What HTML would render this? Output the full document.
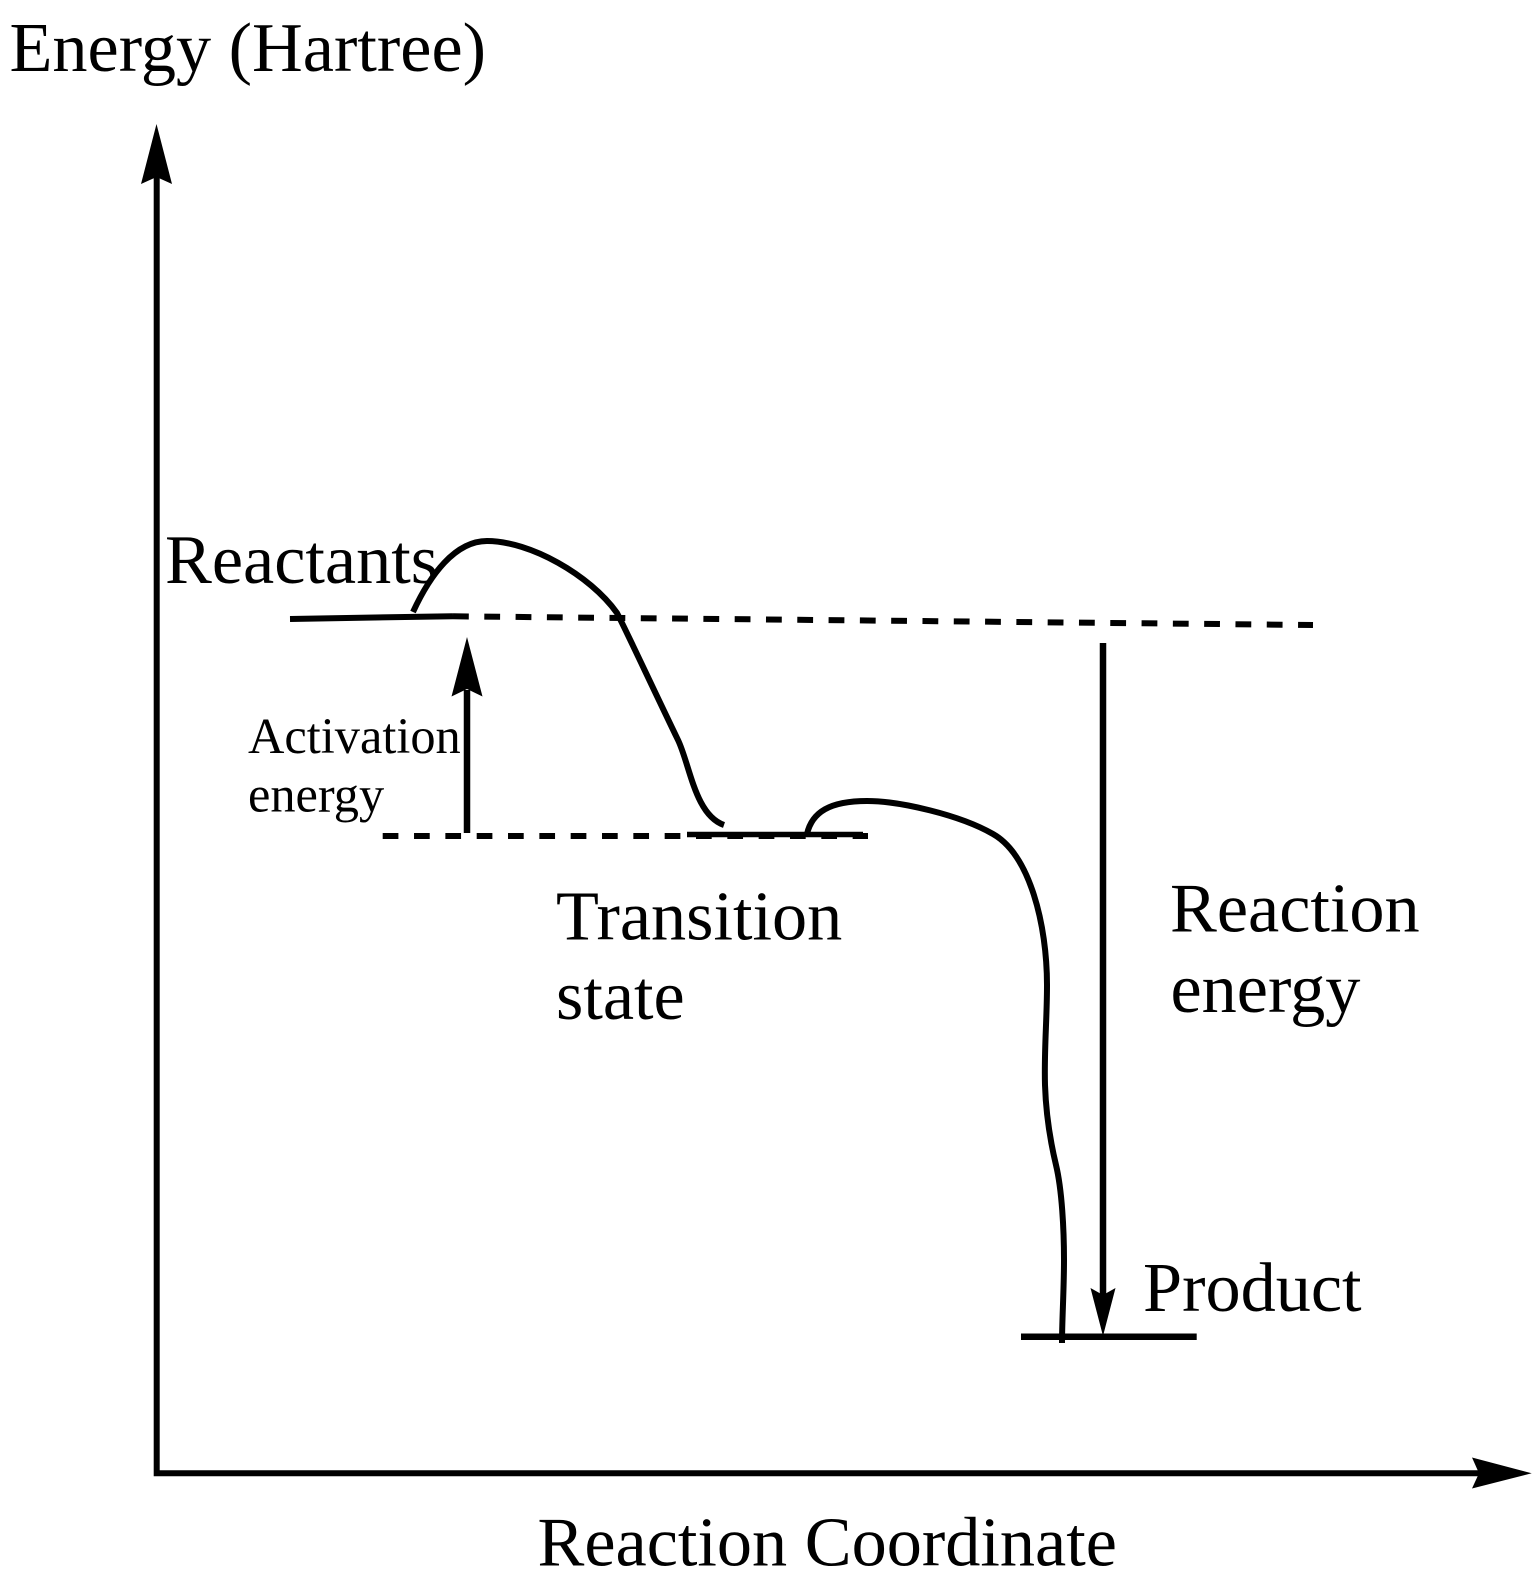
<!DOCTYPE html>
<html>
<head>
<meta charset="utf-8">
<style>
html,body{margin:0;padding:0;background:#fff;width:1540px;height:1592px;overflow:hidden}
svg{display:block}
text{font-family:"Liberation Serif",serif;fill:#000;font-size:70.25px}
</style>
</head>
<body>
<svg width="1540" height="1592" viewBox="0 0 1540 1592" xmlns="http://www.w3.org/2000/svg">
<rect width="1540" height="1592" fill="#fff"/>
<g fill="none" stroke="#000">
  <path d="M156.7 175V1473.3H1480" stroke-width="6"/>
  <path d="M290 619L453 616.2" stroke-width="6"/>
  <path d="M453 616.3L1313 625" stroke-width="6" stroke-dasharray="15.8 15.5"/>
  <path d="M382.7 836H868" stroke-width="6" stroke-dasharray="15.7 15.63"/>
  <path d="M687 834.5H863" stroke-width="5.5"/>
  <path d="M467 690V833" stroke-width="6.5"/>
  <path d="M1103 643V1296" stroke-width="6.5"/>
  <path d="M1021 1336.7H1196.7" stroke-width="6.5"/>
  <path d="M413 612C430 575 455 541 487 541C530 541 590 575 617 613C625 628 650 682 678 740C690 765 695 815 724 825" stroke-width="6"/>
  <path d="M807 834C812 812 830 801 867 801C900 801 960 815 993 834C1030 855 1047 925 1047 985C1047 1020 1044 1050 1045 1085C1046 1115 1050 1140 1056 1165C1062 1190 1064 1230 1064 1260C1064 1290 1062 1320 1062 1343" stroke-width="6"/>
</g>
<g fill="#000" stroke="none">
  <polygon points="156.5,124 141,184 156.5,177 172,184"/>
  <polygon points="467,637 451.5,696.5 467,689 482.5,696.5"/>
  <polygon points="1103,1336 1090.5,1288 1103,1295 1115.5,1288"/>
  <polygon points="1531.7,1473.3 1472,1457.5 1479,1473.3 1472,1488.5"/>
</g>
<text x="9.5" y="71">Energy (Hartree)</text>
<text x="165" y="583">Reactants</text>
<text x="248" y="753" style="font-size:50.4px">Activation</text>
<text x="248" y="811.5" style="font-size:50.4px">energy</text>
<text x="556" y="939.5">Transition</text>
<text x="556" y="1019">state</text>
<text x="1170" y="931.5">Reaction</text>
<text x="1170.5" y="1012">energy</text>
<text x="1143" y="1311">Product</text>
<text x="537.5" y="1565.5">Reaction Coordinate</text>
</svg>
</body>
</html>
